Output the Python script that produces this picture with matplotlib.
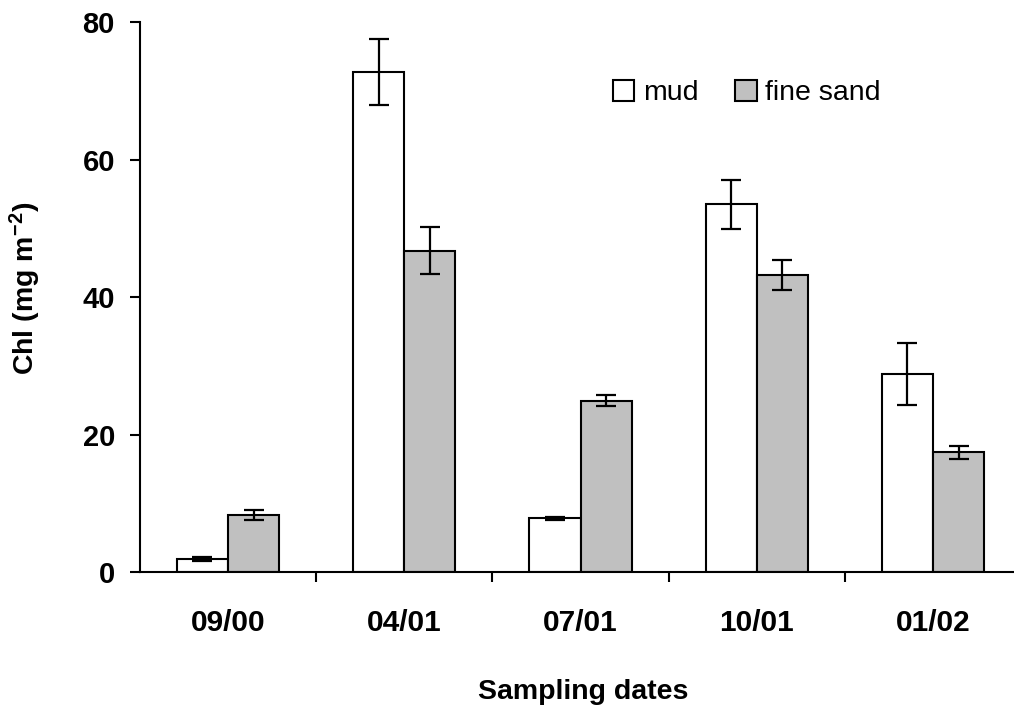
import numpy as np
import matplotlib
matplotlib.use('Agg')
import matplotlib.pyplot as plt

plt.rcParams['font.family'] = ['Liberation Sans', 'DejaVu Sans']
plt.rcParams['mathtext.fontset'] = 'custom'
plt.rcParams['mathtext.rm'] = 'Liberation Sans'
plt.rcParams['mathtext.bf'] = 'Liberation Sans:bold'
plt.rcParams['mathtext.default'] = 'bf'

# data
dates = ['09/00', '04/01', '07/01', '10/01', '01/02']
mud = [2.0, 72.7, 7.9, 53.5, 28.8]
mud_err = [0.3, 4.8, 0.2, 3.5, 4.5]
sand = [8.4, 46.8, 25.0, 43.3, 17.5]
sand_err = [0.75, 3.4, 0.75, 2.2, 0.95]

fig = plt.figure(figsize=(10.14, 7.11), dpi=100)
ax = fig.add_axes([0.138, 0.1948, 0.869, 0.774])

x = np.arange(len(dates))
w = 0.29
ekw = dict(elinewidth=1.6, capthick=1.6, ecolor='black')
ax.bar(x - w / 2, mud, w, yerr=mud_err, color='white', edgecolor='black',
       linewidth=1.5, capsize=7, error_kw=ekw, label='mud')
ax.bar(x + w / 2, sand, w, yerr=sand_err, color='#c0c0c0', edgecolor='black',
       linewidth=1.5, capsize=7, error_kw=ekw, label='fine sand')

ax.set_xlim(-0.5, 4.5)
ax.set_ylim(0, 80)
ax.set_yticks([0, 20, 40, 60, 80])
ax.set_xticks(x)
ax.set_xticklabels(dates)
ax.set_xticks(x[:-1] + 0.5, minor=True)

for s in ['top', 'right']:
    ax.spines[s].set_visible(False)
for s in ['left', 'bottom']:
    ax.spines[s].set_linewidth(1.5)

ax.tick_params(axis='y', which='major', length=7, width=1.5, pad=11, labelsize=21)
ax.tick_params(axis='x', which='major', length=0, pad=26, labelsize=21.5)
ax.tick_params(axis='x', which='minor', length=7, width=1.5)
for lab in ax.get_xticklabels() + ax.get_yticklabels():
    lab.set_fontweight('bold')

ax.set_ylabel(r'Chl (mg m$^{-2}$)', fontsize=20.5, fontweight='bold')
ax.yaxis.set_label_coords(-0.110, 0.517)
ax.set_xlabel('Sampling dates', fontsize=20.5, fontweight='bold')
ax.xaxis.set_label_coords(0.503, -0.1936)

ax.legend(loc='upper left', bbox_to_anchor=(0.5075, 0.942), ncol=2, frameon=False,
          fontsize=20.5, handlelength=0.75, handleheight=0.75, handletextpad=0.3,
          columnspacing=1.3)

fig.savefig('out.png', dpi=100)
